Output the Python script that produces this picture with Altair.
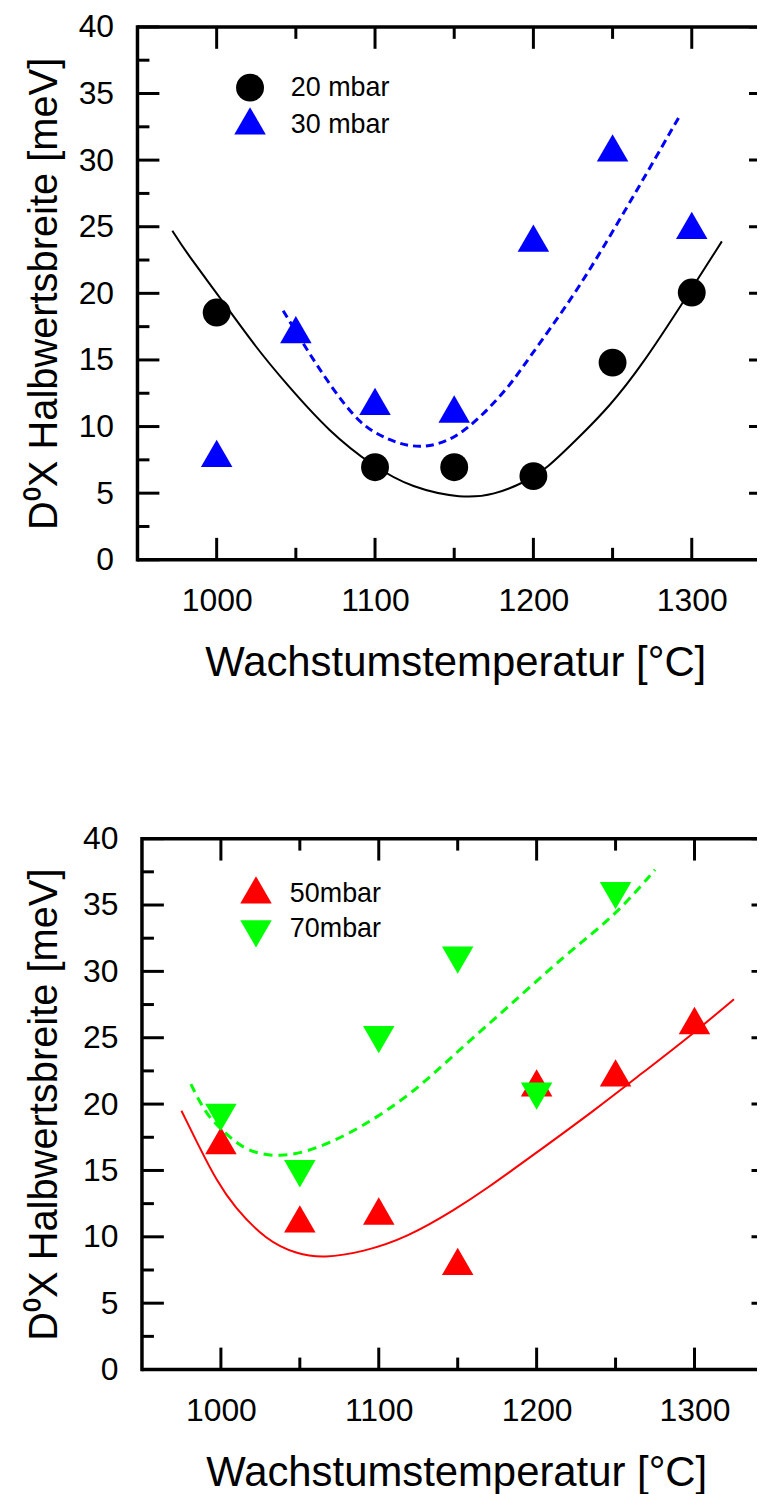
import altair as alt
import pandas as pd

FONT = "Liberation Sans"

# ---------------- data: top panel ----------------
labels_top = ["20 mbar", "30 mbar"]
t20 = [1000, 1100, 1150, 1200, 1250, 1300]
w20 = [18.56, 6.95, 6.95, 6.28, 14.8, 20.06]
t30 = [1000, 1050, 1100, 1150, 1200, 1250, 1300]
w30 = [7.64, 16.93, 11.54, 10.97, 23.8, 30.57, 24.75]

fit20_t = [972, 980, 1002, 1025, 1044, 1071, 1099, 1123, 1155, 1175, 1196, 1208, 1228, 1248, 1268, 1296, 1319]
fit20_w = [24.7, 23.2, 19.7, 15.9, 13.2, 9.6, 7.0, 5.4, 4.6, 4.85, 5.9, 6.8, 9.1, 11.5, 14.5, 19.6, 23.9]
fit30_t = [1042, 1056, 1071, 1090, 1105, 1123, 1146, 1167, 1186, 1196, 1225, 1249, 1271, 1293]
fit30_w = [18.7, 15.95, 13.2, 10.2, 9.2, 8.35, 8.7, 10.7, 13.2, 14.95, 19.7, 24.4, 28.9, 33.45]

# ---------------- data: bottom panel ----------------
labels_bot = ["50mbar", "70mbar"]
t50 = [1000, 1050, 1100, 1150, 1200, 1250, 1300]
w50 = [16.9, 11.0, 11.6, 7.8, 21.25, 22.0, 25.95]
t70 = [1000, 1050, 1100, 1150, 1200, 1250]
w70 = [19.35, 15.1, 25.2, 31.2, 20.95, 36.05]

fit50_t = [975, 987, 997, 1008, 1029, 1048, 1065, 1090, 1118, 1149, 1168, 1196, 1238, 1267, 1298, 1325]
fit50_w = [19.5, 16.6, 14.3, 12.3, 9.7, 8.7, 8.4, 8.85, 9.95, 12.1, 13.6, 16.0, 19.65, 22.35, 25.2, 27.9]
fit70_t = [981, 991, 1004, 1016, 1037, 1061, 1090, 1122, 1151, 1180, 1219, 1249, 1275]
fit70_w = [21.5, 19.1, 17.7, 16.45, 15.95, 16.6, 18.3, 20.85, 24.1, 27.1, 31.35, 34.1, 37.65]

# ---------------- axes / ticks ----------------
x_major = [1000, 1100, 1200, 1300]
x_minor = [1050, 1150, 1250]
y_major = [0, 5, 10, 15, 20, 25, 30, 35, 40]
y_minor = [2.5, 7.5, 12.5, 17.5, 22.5, 27.5, 32.5, 37.5]
x_frame = [950, 1350]   # frame of the original plot (right side lies outside the page)
y_frame = [0, 40]

TRI_UP = "M0,-1.31L1.13,0.65L-1.13,0.65Z"
TRI_DOWN = "M0,1.31L1.13,-0.65L-1.13,-0.65Z"

ys = alt.Scale(domain=y_frame, nice=False, zero=False)
PW = 622  # visible plot width (page is cut at the right)


def panel(series, fits, labels, colors, shapes, xdom, height, yoff, ytitle_pad, xtitle_x, leg):
    xs = alt.Scale(domain=xdom, nice=False, zero=False)
    xaxis = alt.Axis(values=x_major, format="d", title="Wachstumstemperatur [°C]",
                     labelPadding=26, titlePadding=26, labelFlush=False,
                     titleFontSize=42, titleX=xtitle_x)
    yaxis = alt.Axis(values=y_major, format="d", title="D⁰X Halbwertsbreite [meV]",
                     labelPadding=24, titlePadding=ytitle_pad, labelFlush=False,
                     offset=yoff)
    X = lambda: alt.X("T:Q", scale=xs, axis=xaxis)
    Y = lambda: alt.Y("W:Q", scale=ys, axis=yaxis)
    rule = dict(color="black", strokeWidth=3)

    layers = []
    # frame: left, bottom, top
    layers.append(alt.Chart(pd.DataFrame({"T": [x_frame[0]]})).mark_rule(
        color="black", strokeWidth=3.5, strokeCap="square").encode(x=X()))
    for yv in y_frame:
        layers.append(alt.Chart(pd.DataFrame({"T": [x_frame[0]], "W": [yv]})).mark_rule(
            color="black", strokeWidth=3.5).encode(x=X(), x2=alt.value(PW), y=Y()))
    # inward ticks: left and right
    for vals, ln in ((y_major, 22), (y_minor, 12)):
        d = pd.DataFrame({"W": vals, "T": [x_frame[0]] * len(vals)})
        layers.append(alt.Chart(d).mark_rule(x2Offset=ln, **rule).encode(
            y=Y(), x=X(), x2="T:Q"))
        d2 = pd.DataFrame({"W": vals, "T": [x_frame[1]] * len(vals)})
        layers.append(alt.Chart(d2).mark_rule(clip=True, x2Offset=-ln, **rule).encode(
            y=Y(), x=X(), x2="T:Q"))
    # inward ticks: bottom and top
    for vals, ln in ((x_major, 22), (x_minor, 12)):
        d = pd.DataFrame({"T": vals})
        layers.append(alt.Chart(d).mark_rule(**rule).encode(
            x=X(), y=alt.value(height), y2=alt.value(height - ln)))
        layers.append(alt.Chart(d).mark_rule(**rule).encode(
            x=X(), y=alt.value(0), y2=alt.value(ln)))

    # fitted curves
    for ft, fw, col, sw, dash in fits:
        d = pd.DataFrame({"T": ft, "W": fw})
        kw = dict(color=col, strokeWidth=sw, interpolate="basis")
        if dash:
            kw["strokeDash"] = dash
        layers.append(alt.Chart(d).mark_line(**kw).encode(x=X(), y=Y()))

    # measured points
    frames = []
    for lab, (tt, ww) in zip(labels, series):
        frames.append(pd.DataFrame({"T": tt, "W": ww, "series": lab}))
    pts = pd.concat(frames, ignore_index=True)
    legend = alt.Legend(orient="none", legendX=leg[0], legendY=leg[1], title=None,
                        labelFont=FONT, labelFontSize=27, labelColor="black",
                        symbolSize=784, symbolStrokeWidth=0, symbolOpacity=1,
                        labelOffset=leg[2], rowPadding=leg[3], padding=0)
    layers.append(alt.Chart(pts).mark_point(filled=True, size=784, opacity=1).encode(
        x=X(), y=Y(),
        color=alt.Color("series:N", scale=alt.Scale(domain=labels, range=colors), legend=legend),
        shape=alt.Shape("series:N", scale=alt.Scale(domain=labels, range=shapes), legend=legend),
    ))
    return alt.layer(*layers).properties(width=PW, height=height)


top = panel(
    [(t20, w20), (t30, w30)],
    [(fit20_t, fit20_w, "black", 2, None), (fit30_t, fit30_w, "#0000ff", 3, [8, 5])],
    labels_top, ["black", "#0000ff"], ["circle", TRI_UP],
    [950, 1341.2], 535, 0, 14, 319, (99, 47, 27, 5),
)
bottom = panel(
    [(t50, w50), (t70, w70)],
    [(fit50_t, fit50_w, "#ff0000", 2, None), (fit70_t, fit70_w, "#00ff00", 3, [9, 6])],
    labels_bot, ["#ff0000", "#00ff00"], [TRI_UP, TRI_DOWN],
    [947.16, 1339.6], 533, -4.5, 18.5, 320, (105, 42, 20, 8),
)

chart = alt.concat(top, bottom, columns=1, spacing=140).resolve_scale(
    color="independent", shape="independent"
).properties(
    padding={"left": 16, "top": 0, "right": 0, "bottom": 0}
).configure_view(
    stroke=None
).configure_axis(
    grid=False, domain=False, ticks=False, tickSize=0,
    labelFont=FONT, labelFontSize=32, labelColor="black",
    titleFont=FONT, titleFontSize=40, titleFontWeight="normal", titleColor="black",
)

chart.save("out.html", embed_options={"renderer": "svg", "actions": False})
